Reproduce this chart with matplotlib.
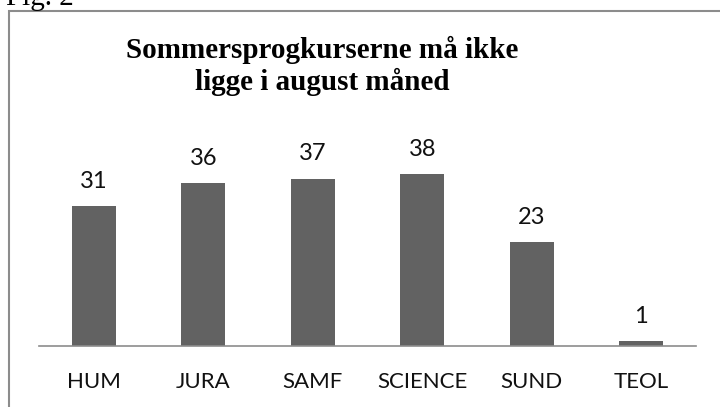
import matplotlib.pyplot as plt
from matplotlib.patches import Rectangle

fakulteter = ['HUM', 'JURA', 'SAMF', 'SCIENCE', 'SUND', 'TEOL']
antal = [31, 36, 37, 38, 23, 1]

fig = plt.figure(figsize=(7.2, 4.07), dpi=100)

# ramme rundt om diagrammet
fig.patches.append(Rectangle((9/720, -0.05), 1.0, 1 - 11/407 + 0.05,
                             transform=fig.transFigure, fill=False,
                             edgecolor='#8c8c8c', linewidth=1.5))

ax = fig.add_axes([39/720, 61/407, 657/720, 236/407])
x = range(len(fakulteter))
bars = ax.bar(x, antal, width=0.4, color='#626262')
ax.set_xlim(-0.5, len(fakulteter) - 0.5)
ax.set_ylim(0, 236/4.526)

for b, v in zip(bars, antal):
    ax.text(b.get_x() + b.get_width()/2, v + 4, str(v), ha='center',
            va='baseline', fontsize=17, family='Lato', color='#111111')

ax.set_xticks(list(x))
ax.set_xticklabels(fakulteter, fontsize=16, family='Lato', color='#111111')
ax.tick_params(axis='x', length=0, pad=19)
ax.set_yticks([])
for s in ['top', 'right', 'left']:
    ax.spines[s].set_visible(False)
ax.spines['bottom'].set_color('#8c8c8c')
ax.spines['bottom'].set_linewidth(1.2)

fig.text(322/720, 1 - 58/407, 'Sommersprogkurserne må ikke',
         ha='center', va='baseline', fontsize=21, fontweight='bold',
         family='Liberation Serif')
fig.text(322/720, 1 - 90/407, 'ligge i august måned',
         ha='center', va='baseline', fontsize=21, fontweight='bold',
         family='Liberation Serif')
fig.text(6/720, 1 - 5/407, 'Fig. 2', ha='left', va='baseline',
         fontsize=21, family='Liberation Serif')

fig.savefig('out.png', dpi=100)
